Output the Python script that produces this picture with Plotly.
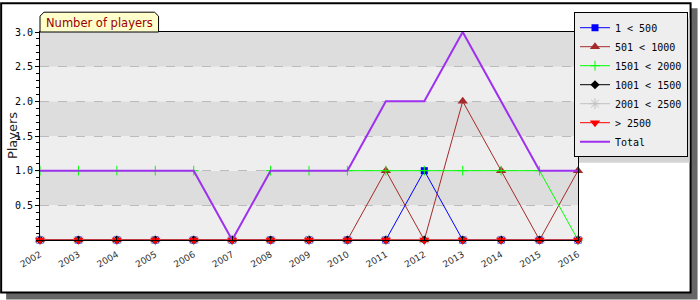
import plotly.graph_objects as go

years = list(range(2002, 2017))
s_1_500 = [0, 0, 0, 0, 0, 0, 0, 0, 0, 0, 1, 0, 0, 0, 0]
s_501_1000 = [0, 0, 0, 0, 0, 0, 0, 0, 0, 1, 0, 2, 1, 0, 1]
s_1501_2000 = [1, 1, 1, 1, 1, 0, 1, 1, 1, 1, 1, 1, 1, 1, 0]
s_1001_1500 = [0] * 15
s_2001_2500 = [0] * 15
s_gt_2500 = [0] * 15
total = [a + b + c + d + e + f for a, b, c, d, e, f in
         zip(s_1_500, s_501_1000, s_1501_2000, s_1001_1500, s_2001_2500, s_gt_2500)]

y_ticks = [0.5, 1.0, 1.5, 2.0, 2.5, 3.0]
y_bands = [0, 0.5, 1.0, 1.5, 2.0, 2.5, 3.0]

W, H = 700, 300
L, R, T, B = 40, 120, 30, 60
PW, PH = W - L - R, H - T - B


def px(x):
    return (x - L) / PW


def py(y):
    return (H - B - y) / PH


fig = go.Figure()

series = [
    ("1 < 500", s_1_500, "#0000ff", dict(symbol="square", size=7, color="#0000ff")),
    ("501 < 1000", s_501_1000, "#a52a2a", dict(symbol="triangle-up", size=9, color="#a52a2a")),
    ("1501 < 2000", s_1501_2000, "#00ff00", dict(symbol="cross-thin", size=7, line=dict(color="#00ff00", width=1))),
    ("1001 < 1500", s_1001_1500, "#000000", dict(symbol="diamond", size=7, color="#000000")),
    ("2001 < 2500", s_2001_2500, "#c0c0c0", dict(symbol="asterisk-open", size=9, line=dict(color="#c0c0c0", width=1))),
    ("> 2500", s_gt_2500, "#ff0000", dict(symbol="triangle-down", size=9, color="#ff0000")),
]
for name, vals, col, mk in series:
    fig.add_trace(go.Scatter(x=years, y=vals, name=name, mode="lines+markers",
                             line=dict(color=col, width=1), marker=mk, cliponaxis=False))
fig.add_trace(go.Scatter(x=years, y=total, name="Total", mode="lines",
                         line=dict(color="#9f30f0", width=2), cliponaxis=False))

shapes = []
# drop shadow and frame
shapes.append(dict(type="rect", xref="paper", yref="paper", layer="below",
                   x0=px(6), x1=px(700), y0=py(6), y1=py(300),
                   fillcolor="#666666", line=dict(width=0)))
shapes.append(dict(type="rect", xref="paper", yref="paper", layer="below",
                   x0=px(1), x1=px(693), y0=py(1), y1=py(293),
                   fillcolor="#ffffff", line=dict(color="#000000", width=2)))
# alternating bands
for i in range(len(y_bands) - 1):
    shapes.append(dict(type="rect", xref="paper", yref="y", layer="below",
                       x0=0, x1=1, y0=y_bands[i], y1=y_bands[i + 1],
                       fillcolor="#eeeeee" if i % 2 == 0 else "#dddddd",
                       line=dict(width=0)))
# title tab
tx0, tx1, ty0, ty1, bev = 40, 159, 10, 30, 4
path = (f"M {px(tx0)},{py(ty1)} L {px(tx0)},{py(ty0 + bev)} L {px(tx0 + bev)},{py(ty0)} "
        f"L {px(tx1 - bev)},{py(ty0)} L {px(tx1)},{py(ty0 + bev)} L {px(tx1)},{py(ty1)} Z")
shapes.append(dict(type="path", xref="paper", yref="paper", path=path,
                   fillcolor="#ffffcc", line=dict(color="#000000", width=1)))
# legend shadow
shapes.append(dict(type="rect", xref="paper", yref="paper", layer="above",
                   x0=px(581), x1=px(692), y0=py(16), y1=py(162),
                   fillcolor="#d4d4d4", line=dict(width=0)))

annotations = [
    dict(text="Number of players", xref="paper", yref="paper",
         x=px((tx0 + tx1) / 2), y=py(20.5), showarrow=False,
         xanchor="center", yanchor="middle",
         font=dict(family="DejaVu Sans", size=11.5, color="#990000")),
    dict(text="Players", xref="paper", yref="paper", x=px(12), y=py(135),
         showarrow=False, textangle=-90, xanchor="center", yanchor="middle",
         font=dict(family="DejaVu Sans", size=13, color="#222222")),
]

fig.update_layout(
    width=W, height=H,
    margin=dict(l=L, r=R, t=T, b=B, pad=0),
    paper_bgcolor="#ffffff", plot_bgcolor="rgba(0,0,0,0)",
    shapes=shapes, annotations=annotations,
    showlegend=True,
    legend=dict(x=px(576), y=py(10), xanchor="left", yanchor="top",
                bgcolor="#eeeeee", bordercolor="#000000", borderwidth=1,
                font=dict(family="DejaVu Sans Mono", size=10, color="#000000"),
                tracegroupgap=0, itemwidth=30),
    xaxis=dict(range=[2002, 2016], tickvals=years, ticktext=[str(y) for y in years],
               ticks="inside", ticklen=4, tickcolor="#000000", tickangle=-30,
               ticklabelstandoff=5,
               tickfont=dict(family="DejaVu Sans", size=9, color="#333333"),
               showline=True, linecolor="#000000", linewidth=1, mirror=True,
               showgrid=False, zeroline=False, fixedrange=True),
    yaxis=dict(range=[0, 3], tickvals=y_ticks, ticktext=[f"{v:.1f}" for v in y_ticks],
               ticks="outside", ticklen=4, tickcolor="#000000",
               tickfont=dict(family="DejaVu Sans Mono", size=10, color="#000000"),
               minor=dict(tick0=0, dtick=0.1, ticks="outside", ticklen=3,
                          tickcolor="#000000", showgrid=False),
               showline=True, linecolor="#000000", linewidth=1, mirror=True,
               showgrid=True, gridcolor="#bbbbbb", griddash="dash", gridwidth=1,
               zeroline=False, fixedrange=True),
)

fig.write_html("out.html")
